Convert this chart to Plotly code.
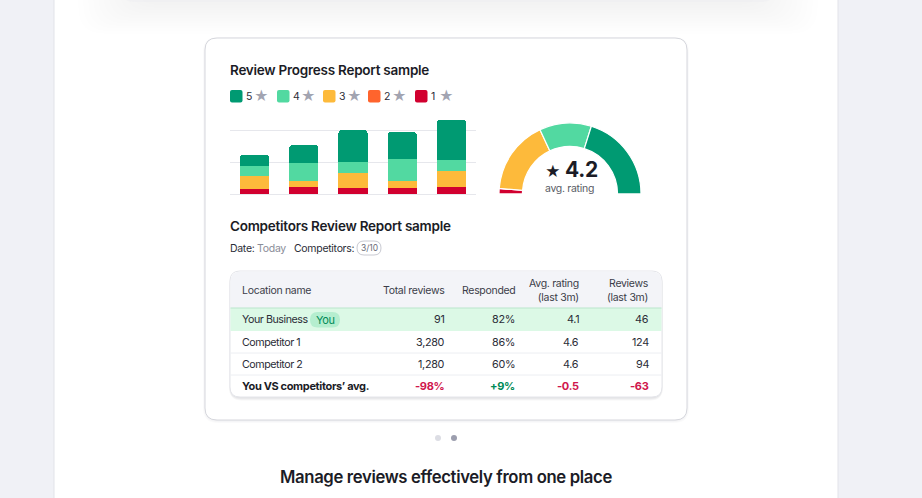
import plotly.graph_objects as go

W, H = 922, 498

# ---------------- data ----------------
periods = ["P1", "P2", "P3", "P4", "P5"]
star_labels = ["5", "4", "3", "2", "1"]
star_colors = ["#009a72", "#52d9a1", "#fdba3b", "#ff642d", "#d1002f"]
ones = [1.6, 2.2, 1.9, 1.9, 2.2]
twos = [0, 0, 0, 0, 0]
threes = [4.1, 1.9, 4.7, 2.2, 5.0]
fours = [3.1, 5.7, 3.5, 6.8, 3.4]
fives = [3.4, 5.5, 9.8, 8.4, 12.5]

gauge_labels = ["1", "2", "3", "4", "5"]
gauge_share = [4.5, 0, 60.5, 42.5, 72.5]
avg_rating_total = 4.2

col_headers = ["Location name", "Total reviews", "Responded", "Avg. rating<br>(last 3m)", "Reviews<br>(last 3m)"]
locations = ["Your Business", "Competitor 1", "Competitor 2"]
total_reviews = [91, 3280, 1280]
responded = [82, 86, 60]
avg_rating = [4.1, 4.6, 4.6]
reviews_3m = [46, 124, 94]
vs_label = "You VS competitors’ avg."
vs_values = ["-98%", "+9%", "-0.5", "-63"]

FONT = "Inter, 'Noto Sans', sans-serif"
PAD = 2  # annotation inner padding (borderpad + border)


def X(x):
    return x / W


def Y(y):
    return 1 - y / H


def rrect_path(x0, y0, x1, y1, r, top=True, bottom=True):
    rt = r if top else 0
    rb = r if bottom else 0
    p = f"M {X(x0 + rt)},{Y(y0)} L {X(x1 - rt)},{Y(y0)} "
    p += f"Q {X(x1)},{Y(y0)} {X(x1)},{Y(y0 + rt)} " if rt else ""
    p += f"L {X(x1)},{Y(y1 - rb)} "
    p += f"Q {X(x1)},{Y(y1)} {X(x1 - rb)},{Y(y1)} " if rb else ""
    p += f"L {X(x0 + rb)},{Y(y1)} "
    p += f"Q {X(x0)},{Y(y1)} {X(x0)},{Y(y1 - rb)} " if rb else ""
    p += f"L {X(x0)},{Y(y0 + rt)} "
    p += f"Q {X(x0)},{Y(y0)} {X(x0 + rt)},{Y(y0)} " if rt else ""
    return p + "Z"


shapes = []
annotations = []


def add_rr(x0, y0, x1, y1, r, fill, line=None, lw=1, top=True, bottom=True):
    shapes.append(dict(type="path", path=rrect_path(x0, y0, x1, y1, r, top, bottom),
                       xref="paper", yref="paper", layer="below",
                       fillcolor=fill, line=dict(color=line or "rgba(0,0,0,0)", width=lw if line else 0)))


def add_line(x0, y0, x1, y1, color, w=1):
    shapes.append(dict(type="line", x0=X(x0), y0=Y(y0), x1=X(x1), y1=Y(y1),
                       xref="paper", yref="paper", layer="below", line=dict(color=color, width=w)))


def text(x, y, s, size=11, color="#2b2d37", xanchor="left", weight=400, align="left", ls=None):
    if xanchor == "left":
        x -= PAD
    elif xanchor == "right":
        x += PAD
    if ls is not None:
        s = "<br>".join(f"<span style='letter-spacing:{ls}px'>{part}</span>" for part in s.split("<br>"))
    annotations.append(dict(x=X(x), y=Y(y), xref="paper", yref="paper", text=s, showarrow=False,
                            xanchor=xanchor, yanchor="middle", align=align,
                            font=dict(family=FONT, size=size, color=color, weight=weight)))


# white panel
shapes.append(dict(type="rect", x0=X(54), x1=X(838), y0=Y(-5), y1=Y(505), xref="paper", yref="paper",
                   layer="below", fillcolor="#ffffff", line=dict(color="#e2e3e9", width=1)))
# top shadow card
for i in range(12):
    add_rr(78 + i * 5, -60, 818 - i * 5, 34 - i * 2.6, 26, "rgba(40,40,70,0.0055)")
add_rr(118, -60, 778, 2, 18, "rgba(235,235,240,0.35)")

# main card
for i in range(3):
    add_rr(205 - i, 38 - i + 1, 687 + i, 420 + i + 1, 13 + i, "rgba(0,0,30,0.02)")
add_rr(205, 38, 687, 420, 12, "#ffffff", "#d6d7dd", 1)

# table
for i in range(3):
    add_rr(230 - i * 0.5, 272, 662 + i * 0.5, 398 + i + 0.5, 11 + i, "rgba(0,0,30,0.035)")
add_rr(230, 271, 662, 397, 10, "#ffffff", "#e4e5ea", 1)
add_rr(230.5, 271.5, 661.5, 308, 10, "#f3f4f8", bottom=False)
add_rr(230.5, 308, 661.5, 331, 0, "#dcf9e6")
add_line(230.5, 308, 661.5, 308, "#b9e5cb", 1.2)
add_line(230.5, 353, 661.5, 353, "#eceef2", 1)
add_line(230.5, 375, 661.5, 375, "#eceef2", 1)

# pagination dots
for dx, col in [(438, "#dcdde4"), (454, "#9c9eae")]:
    shapes.append(dict(type="circle", x0=X(dx - 3), x1=X(dx + 3), y0=Y(441), y1=Y(435),
                       xref="paper", yref="paper", layer="below", fillcolor=col, line=dict(width=0)))

# ---------------- stacked bars ----------------
fig = go.Figure()
series = [(ones, 4), (twos, 3), (threes, 2), (fours, 1), (fives, 0)]
for vals, idx in series:
    fig.add_trace(go.Bar(x=periods, y=vals, marker=dict(color=star_colors[idx], line=dict(width=0)),
                         name=star_labels[idx], showlegend=False, hoverinfo="skip"))

# ---------------- gauge ----------------
gauge_vals = gauge_share + [sum(gauge_share)]
gauge_cols = ["#d1002f", "#ff642d", "#fdba3b", "#52d9a1", "#009a72", "rgba(0,0,0,0)"]
cx, cy, R = 570, 194, 71
fig.add_trace(go.Pie(values=gauge_vals, labels=gauge_labels + ["rest"], sort=False, direction="clockwise",
                     rotation=270, hole=0.67, textinfo="none", hoverinfo="skip", showlegend=False,
                     marker=dict(colors=gauge_cols, line=dict(color="#ffffff", width=1.2)),
                     domain=dict(x=[X(cx - R), X(cx + R)], y=[Y(cy + R), Y(cy - R)])))

# ---------------- texts ----------------
LS = -0.3
RLS = -0.45
text(230, 70, "Review Progress Report sample", size=13.5, color="#1b1c26", weight=600, ls=-0.25)
# legend
lx = [230, 277, 323, 368, 415]
for i, lab in enumerate(star_labels):
    add_rr(lx[i], 90, lx[i] + 12.5, 102.5, 2, star_colors[i])
    text(lx[i] + 15.5, 96.5, lab, size=10.5, color="#2b2d37")
    text(lx[i] + 23.5, 96, "★", size=14, color="#a2a4b1")

text(cx + 1, 169, "<span style='font-size:15px'>★</span> " + f"{avg_rating_total:.1f}", size=21,
     color="#1b1c26", xanchor="center", weight=700, ls=-0.3)
text(cx - 1, 188, "avg. rating", size=10.5, color="#5a5c66", xanchor="center", ls=LS)

text(230, 226, "Competitors Review Report sample", size=13.5, color="#1b1c26", weight=600, ls=-0.25)
text(230, 248, "Date: <span style='color:#8a8c98'>Today</span>", size=10.5, color="#2b2d37", ls=LS)
text(294, 248, "Competitors:", size=10.5, color="#2b2d37", ls=LS)
add_rr(357, 241, 381, 255, 7, "#ffffff", "#c9cad2", 1)
text(369, 248, "3/10", size=8.5, color="#6b6d79", xanchor="center")

# table header
col_right = [445, 515, 579, 649]
text(242, 290, col_headers[0], size=10.5, color="#3b3d48", ls=LS)
for i, h in enumerate(col_headers[1:]):
    text(col_right[i], 290, h, size=10.5, color="#3b3d48", xanchor="right", align="right", ls=LS)

row_y = [319.5, 342, 364, 386]
for r, loc in enumerate(locations):
    text(242, row_y[r], loc, size=10.7, ls=RLS)
    vals = [f"{total_reviews[r]:,}", f"{responded[r]}%", f"{avg_rating[r]:.1f}", f"{reviews_3m[r]}"]
    for c, v in enumerate(vals):
        text(col_right[c], row_y[r], v, size=10.8, xanchor="right", ls=LS)
# you badge
add_rr(310, 312, 340, 327.5, 7.5, "#b5eecf")
text(325, 319.5, "You", size=11, color="#008a57", xanchor="center", ls=LS)

text(242, row_y[3], vs_label, size=11, color="#1b1c26", weight=700, ls=-0.35)
for c, v in enumerate(vs_values):
    col = "#008a57" if v.startswith("+") else "#d0164d"
    text(col_right[c], row_y[3], v, size=11, color=col, weight=700, xanchor="right", ls=LS)

text(446, 477, "Manage reviews effectively from one place", size=16.7, color="#1b1c26",
     xanchor="center", weight=600, ls=-0.35)

fig.update_layout(
    width=W, height=H, autosize=False,
    margin=dict(l=0, r=0, t=0, b=0),
    paper_bgcolor="#f0f1f6", plot_bgcolor="rgba(0,0,0,0)",
    barmode="stack", bargap=0.41, barcornerradius=3,
    xaxis=dict(domain=[X(230), X(476)], range=[-0.5, 4.5], visible=False, fixedrange=True),
    yaxis=dict(domain=[Y(194), Y(114)], range=[0, 25], tickvals=[0, 10, 20], showticklabels=False,
               showgrid=True, gridcolor="#e6e7ec", gridwidth=1, zeroline=True, zerolinecolor="#e6e7ec",
               zerolinewidth=1, showline=False, fixedrange=True),
    shapes=shapes, annotations=annotations,
    font=dict(family=FONT),
)

fig.write_html("out.html", config={"displayModeBar": False},
               post_script="document.body.style.margin='0';document.body.style.overflow='hidden';")
